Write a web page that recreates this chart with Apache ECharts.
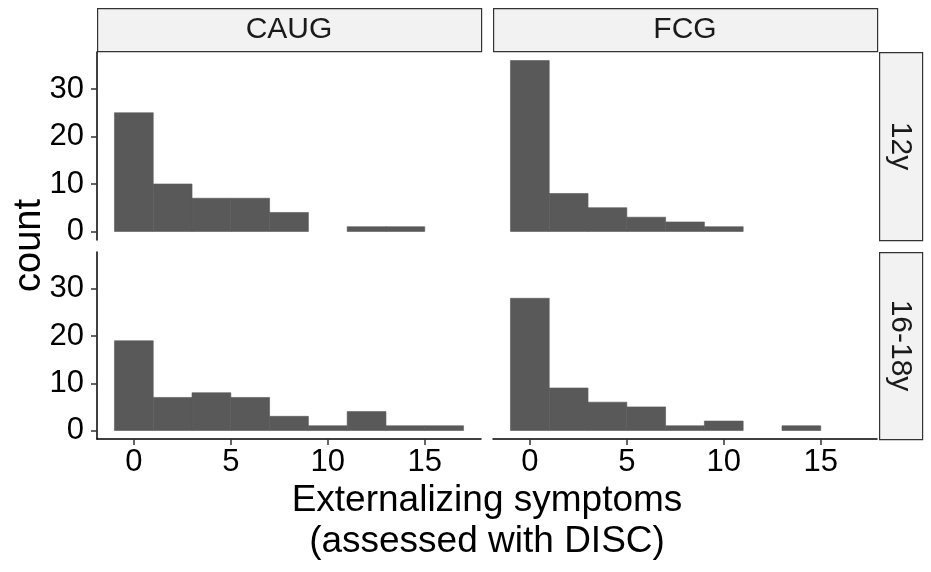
<!DOCTYPE html>
<html>
<head>
<meta charset="utf-8">
<script src="https://cdn.jsdelivr.net/npm/echarts@6/dist/echarts.min.js"></script>
<style>html,body{margin:0;padding:0;background:#fff;}#c{width:931px;height:572px;}</style>
</head>
<body>
<div id="c"></div>
<script>
// ---- data ----
const binCenters = [0, 2, 4, 6, 8, 10, 12, 14, 16];
const binWidth = 2;
const caug12y = [25, 10, 7, 7, 4, 0, 1, 1, 0];
const fcg12y = [36, 8, 5, 3, 2, 1, 0, 0, 0];
const caug1618y = [19, 7, 8, 7, 3, 1, 4, 1, 1];
const fcg1618y = [28, 9, 6, 5, 1, 2, 0, 1, 0];
const colGroups = ['CAUG', 'FCG'];
const rowGroups = ['12y', '16-18y'];
const xTicks = [0, 5, 10, 15];
const yTicks = [0, 10, 20, 30];
const xTitle = 'Externalizing symptoms\n(assessed with DISC)';
const yTitle = 'count';

const FONT = 'Liberation Sans, Arial, sans-serif';
const panels = [
  {vals: caug12y, row: 0, col: 0},
  {vals: fcg12y, row: 0, col: 1},
  {vals: caug1618y, row: 1, col: 0},
  {vals: fcg1618y, row: 1, col: 1}
];
const colX = [97, 493], colW = 384;
const rowY = [52, 252], rowH = [188, 187];

const grids = [], xAxes = [], yAxes = [], series = [];
panels.forEach((p, i) => {
  grids.push({left: colX[p.col], top: rowY[p.row], width: colW, height: rowH[p.row], containLabel: false});
  const bottomRow = p.row === 1, leftCol = p.col === 0;
  xAxes.push({
    type: 'value', gridIndex: i, min: -1.9, max: 17.9,
    splitLine: {show: false},
    axisLine: {show: bottomRow, onZero: false, lineStyle: {color: '#000', width: 1.5}},
    axisTick: {show: bottomRow, length: 6, customValues: xTicks, lineStyle: {color: '#333', width: 1.5}},
    axisLabel: {show: bottomRow, customValues: xTicks, margin: 8, color: '#000', fontSize: 31, fontFamily: FONT}
  });
  yAxes.push({
    type: 'value', gridIndex: i, min: -1.8, max: 37.8,
    splitLine: {show: false},
    axisLine: {show: leftCol, onZero: false, lineStyle: {color: '#000', width: 1.5}},
    axisTick: {show: leftCol, length: 6, customValues: yTicks, lineStyle: {color: '#333', width: 1.5}},
    axisLabel: {show: leftCol, customValues: yTicks, margin: 13, color: '#000', fontSize: 31, fontFamily: FONT}
  });
  series.push({
    type: 'custom', xAxisIndex: i, yAxisIndex: i,
    data: binCenters.map((c, k) => [c, p.vals[k]]),
    renderItem: function (params, api) {
      const c = api.value(0), v = api.value(1);
      if (!v) return null;
      const p0 = api.coord([c - binWidth / 2, v]);
      const p1 = api.coord([c + binWidth / 2, 0]);
      return {type: 'rect', shape: {x: p0[0], y: p0[1], width: p1[0] - p0[0], height: p1[1] - p0[1]},
              style: {fill: '#595959', stroke: '#595959', lineWidth: 0.6}};
    },
    silent: true, animation: false
  });
});

const graphic = [];
colGroups.forEach((g, j) => {
  graphic.push({type: 'rect', left: colX[j], top: 8, shape: {width: colW, height: 43},
    style: {fill: '#F2F2F2', stroke: '#333', lineWidth: 1.2}});
  graphic.push({type: 'text', x: colX[j] + colW / 2, y: 30,
    style: {text: g, fontSize: 30, fontFamily: FONT, fill: '#1a1a1a', align: 'center', verticalAlign: 'middle'}});
});
rowGroups.forEach((g, r) => {
  graphic.push({type: 'rect', left: 879, top: rowY[r], shape: {width: 43, height: rowH[r]},
    style: {fill: '#F2F2F2', stroke: '#333', lineWidth: 1.2}});
  graphic.push({type: 'text', x: 900.5, y: rowY[r] + rowH[r] / 2, rotation: -Math.PI / 2,
    style: {text: g, fontSize: 30, fontFamily: FONT, fill: '#1a1a1a', align: 'center', verticalAlign: 'middle'}});
});
graphic.push({type: 'text', x: 30, y: 245.5, rotation: Math.PI / 2,
  style: {text: yTitle, fontSize: 38, fontFamily: FONT, fill: '#000', align: 'center', verticalAlign: 'middle'}});
graphic.push({type: 'text', x: 487, y: 521,
  style: {text: xTitle, fontSize: 37, lineHeight: 41, fontFamily: FONT, fill: '#000', align: 'center', verticalAlign: 'middle'}});

const chart = echarts.init(document.getElementById('c'), null, {renderer: 'canvas'});
chart.setOption({
  animation: false,
  backgroundColor: '#fff',
  grid: grids, xAxis: xAxes, yAxis: yAxes, series: series, graphic: graphic
});
</script>
</body>
</html>
